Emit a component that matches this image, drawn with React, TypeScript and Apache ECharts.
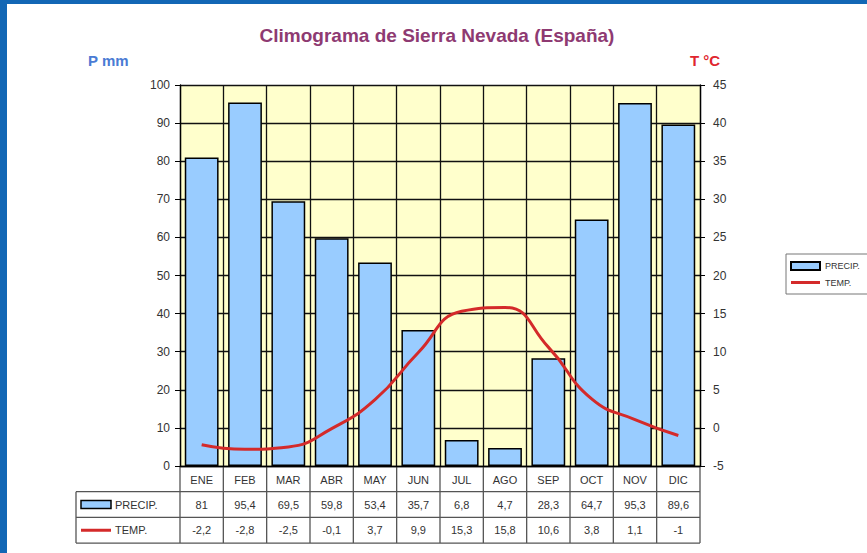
import React, { useEffect, useRef } from "react";
import * as echarts from "echarts";

const months = ["ENE", "FEB", "MAR", "ABR", "MAY", "JUN", "JUL", "AGO", "SEP", "OCT", "NOV", "DIC"];
const precip = [81, 95.4, 69.5, 59.8, 53.4, 35.7, 6.8, 4.7, 28.3, 64.7, 95.3, 89.6];
const temp = [-2.2, -2.8, -2.5, -0.1, 3.7, 9.9, 15.3, 15.8, 10.6, 3.8, 1.1, -1];
const precipAxis = { min: 0, max: 100, interval: 10 };
const tempAxis = { min: -5, max: 45, interval: 5 };
const seriesNames = ["PRECIP.", "TEMP."];
const titleText = "Climograma de Sierra Nevada (España)";
const leftAxisTitle = "P mm";
const rightAxisTitle = "T °C";

const FONT = "Liberation Sans, Arial, sans-serif";
const fmt = (v: number) => String(v).replace(".", ",");
const lineIcon = "path://M0,0h0.01v0.01h-0.01z M0,2.6h29v2.8h-29z M28.99,7.99h0.01v0.01h-0.01z";

export default function App() {
  const ref = useRef<HTMLDivElement>(null);
  useEffect(() => {
    document.body.style.margin = "0";
    const chart = echarts.init(ref.current!, null, { renderer: "svg" });
    chart.setOption({
      animation: false,
      backgroundColor: "#ffffff",
      textStyle: { fontFamily: FONT },
      grid: {
        left: 180,
        right: 167,
        top: 85,
        bottom: 87,
        show: true,
        backgroundColor: "#ffffcc",
        borderWidth: 0,
        containLabel: false,
      },
      legend: {
        orient: "vertical",
        left: 786,
        top: 254,
        padding: [7, 20, 7, 4],
        itemWidth: 29,
        itemHeight: 8,
        itemGap: 7,
        borderColor: "#777",
        borderWidth: 1,
        textStyle: { fontSize: 9, color: "#333", fontFamily: FONT },
        data: [
          { name: seriesNames[0], icon: "rect" },
          { name: seriesNames[1], icon: lineIcon, itemStyle: { color: "#d42a2a", borderWidth: 0 } },
        ],
      },
      xAxis: {
        type: "category",
        data: months,
        boundaryGap: true,
        axisLine: { show: true, lineStyle: { color: "#000", width: 1.3 } },
        axisTick: { show: false },
        axisLabel: { margin: 8, fontSize: 11, color: "#333", fontFamily: FONT, interval: 0 },
        splitLine: { show: true, lineStyle: { color: "#111", width: 1.3 } },
      },
      yAxis: [
        {
          type: "value",
          position: "left",
          ...precipAxis,
          axisLine: { show: true, lineStyle: { color: "#000", width: 1.3 } },
          axisTick: { show: true, length: 5, lineStyle: { color: "#000" } },
          axisLabel: { margin: 10, fontSize: 12, color: "#333", fontFamily: FONT },
          splitLine: { show: true, lineStyle: { color: "#111", width: 1.3 } },
        },
        {
          type: "value",
          position: "right",
          ...tempAxis,
          axisLine: { show: true, lineStyle: { color: "#000", width: 1.3 } },
          axisTick: { show: true, length: 5, lineStyle: { color: "#000" } },
          axisLabel: { margin: 13, fontSize: 12, color: "#333", fontFamily: FONT },
          splitLine: { show: false },
        },
      ],
      series: [
        {
          name: seriesNames[0],
          type: "bar",
          yAxisIndex: 0,
          data: precip,
          barCategoryGap: "22%",
          itemStyle: { color: "#99ccff", borderColor: "#000", borderWidth: 1.5 },
          z: 2,
        },
        {
          name: seriesNames[1],
          type: "line",
          yAxisIndex: 1,
          data: temp,
          smooth: 0.5,
          symbol: "none",
          lineStyle: { color: "#d42a2a", width: 3 },
          itemStyle: { color: "#d42a2a" },
          z: 3,
        },
      ],
    });

    const c0 = chart.convertToPixel({ xAxisIndex: 0 }, months[0]) as number;
    const c1 = chart.convertToPixel({ xAxisIndex: 0 }, months[1]) as number;
    const bw = c1 - c0;
    const left = c0 - bw / 2;
    const right = left + bw * months.length;
    const yTop = chart.convertToPixel({ yAxisIndex: 0 }, precipAxis.min) as number;
    const rowH = 25.7;
    const r1 = yTop + rowH;
    const r2 = yTop + rowH * 2;
    const r3 = yTop + rowH * 3;
    const legLeft = 76;
    const lineStyle = { stroke: "#555", lineWidth: 1.3 };
    const els: any[] = [];

    // frame
    els.push({ type: "rect", shape: { x: 0, y: 0, width: 7, height: 553 }, style: { fill: "#1267b5" }, z: 100 });
    els.push({ type: "rect", shape: { x: 0, y: 0, width: 867, height: 4 }, style: { fill: "#1267b5" }, z: 100 });

    // titles
    els.push({
      type: "text", x: 437, y: 35,
      style: { text: titleText, fill: "#8e3a72", font: `bold 19px ${FONT}`, textAlign: "center", textVerticalAlign: "middle" },
    });
    els.push({
      type: "text", x: 88, y: 60,
      style: { text: leftAxisTitle, fill: "#4a7bd4", font: `bold 15px ${FONT}`, textAlign: "left", textVerticalAlign: "middle" },
    });
    els.push({
      type: "text", x: 705, y: 60,
      style: { text: rightAxisTitle, fill: "#e0262e", font: `bold 15px ${FONT}`, textAlign: "center", textVerticalAlign: "middle" },
    });

    // table vertical lines
    for (let i = 0; i <= months.length; i++) {
      const x = left + bw * i;
      els.push({ type: "line", shape: { x1: x, y1: yTop, x2: x, y2: r3 }, style: lineStyle, silent: true });
    }
    // horizontal lines
    els.push({ type: "line", shape: { x1: legLeft, y1: r1, x2: right, y2: r1 }, style: lineStyle });
    els.push({ type: "line", shape: { x1: legLeft, y1: r2, x2: right, y2: r2 }, style: lineStyle });
    els.push({ type: "line", shape: { x1: legLeft, y1: r3, x2: right, y2: r3 }, style: lineStyle });
    els.push({ type: "line", shape: { x1: legLeft, y1: r1, x2: legLeft, y2: r3 }, style: lineStyle });

    // legend column
    els.push({ type: "rect", shape: { x: 81, y: r1 + rowH / 2 - 4, width: 30, height: 8 }, style: { fill: "#99ccff", stroke: "#000", lineWidth: 1.5 } });
    els.push({ type: "line", shape: { x1: 81, y1: r2 + rowH / 2, x2: 111, y2: r2 + rowH / 2 }, style: { stroke: "#d42a2a", lineWidth: 3 } });
    els.push({ type: "text", x: 115, y: r1 + rowH / 2, style: { text: seriesNames[0], fill: "#333", font: `11px ${FONT}`, textAlign: "left", textVerticalAlign: "middle" } });
    els.push({ type: "text", x: 115, y: r2 + rowH / 2, style: { text: seriesNames[1], fill: "#333", font: `11px ${FONT}`, textAlign: "left", textVerticalAlign: "middle" } });

    // values
    months.forEach((m, i) => {
      const cx = chart.convertToPixel({ xAxisIndex: 0 }, m) as number;
      els.push({ type: "text", x: cx, y: r1 + rowH / 2, style: { text: fmt(precip[i]), fill: "#333", font: `11px ${FONT}`, textAlign: "center", textVerticalAlign: "middle" } });
      els.push({ type: "text", x: cx, y: r2 + rowH / 2, style: { text: fmt(temp[i]), fill: "#333", font: `11px ${FONT}`, textAlign: "center", textVerticalAlign: "middle" } });
    });

    chart.setOption({ graphic: { elements: els } });
    return () => chart.dispose();
  }, []);

  return <div ref={ref} style={{ position: "absolute", left: 0, top: 0, width: 867, height: 553 }} />;
}
